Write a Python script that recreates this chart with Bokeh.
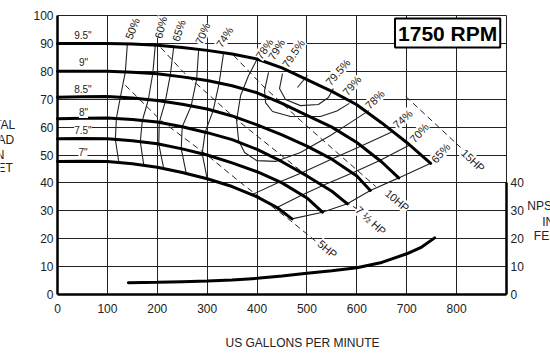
from bokeh.plotting import figure
from bokeh.models import Range1d, LinearAxis, FixedTicker, Label, LabelSet, ColumnDataSource
from bokeh.core.properties import value
from bokeh.embed import file_html
from bokeh.resources import INLINE
import math

FONT = "Liberation Sans"

# ---------------- data (US gpm, feet) ----------------
imp_labels = ['9.5"', '9"', '8.5"', '8"', '7.5"', '7"']
imp_label_q = [51, 52, 51, 52, 51, 51]
imp_label_h = [92.8, 83.3, 73.6, 65.2, 58.8, 51.0]

q_95 = [0, 50, 100, 150, 200, 250, 300, 350, 400, 450, 500, 550, 600, 650, 700, 748]
h_95 = [90, 90, 90, 89.8, 89.3, 88.5, 87.5, 86.2, 84.4, 81.2, 77, 72.8, 68, 61.5, 54.5, 47]
q_90 = [0, 50, 100, 150, 200, 250, 300, 350, 400, 450, 500, 550, 600, 650, 684]
h_90 = [80, 80, 80, 79.7, 79.1, 78, 76.7, 74.8, 72.3, 68.5, 64.2, 60, 54.5, 47.5, 41.8]
q_85 = [0, 50, 100, 150, 200, 250, 300, 350, 400, 450, 500, 550, 600, 627]
h_85 = [70.7, 70.9, 71, 70.4, 69.5, 68.2, 66.5, 64, 60.8, 57.2, 53.2, 48.5, 42.5, 37.3]
q_80 = [0, 50, 100, 150, 200, 250, 300, 350, 400, 450, 500, 550, 581]
h_80 = [63, 63.2, 63.3, 62.7, 61.8, 60.1, 58, 55.5, 52, 47.6, 42.5, 37, 32.5]
q_75 = [0, 50, 100, 150, 200, 250, 300, 350, 400, 450, 500, 531]
h_75 = [55.8, 55.9, 55.8, 55.1, 54, 52.2, 50, 47.2, 44, 40, 34.6, 29.5]
q_70 = [0, 50, 100, 150, 200, 250, 300, 350, 400, 440, 470]
h_70 = [47.7, 47.8, 47.7, 46.9, 45.6, 43.7, 41.5, 38.7, 35, 31.2, 27.1]

# efficiency contours
e50_q = [140, 136, 126, 118, 116, 123]
e50_h = [89.8, 79.8, 70.7, 63.1, 55.6, 47.3]
e60_q = [196, 191, 182, 170, 166, 173]
e60_h = [89.3, 79.2, 69.8, 62.3, 54.8, 46.3]
e65_q = [233, 226, 216, 204, 203, 213]
e65_h = [88.8, 78.6, 69.1, 61.7, 53.9, 45.1]
e70_q = [283, 279, 268, 250, 248, 258]
e70_h = [87.9, 77.3, 67.6, 60.1, 52.3, 43.4]
e74_q = [333, 324, 312, 296, 290, 300]
e74_h = [86.7, 75.8, 65.9, 58.2, 50.5, 41.5]
e78_q = [400, 383, 367, 359, 363, 375, 399, 437, 487, 547, 587, 624]
e78_h = [84.3, 78.5, 71.3, 62.4, 55.2, 50.9, 48.0, 47.7, 50.9, 57.0, 61.6, 65.9]
e79_q = [423, 415, 417, 431, 467, 527, 560, 585]
e79_h = [79.6, 73.1, 68.8, 65.6, 63.8, 63.8, 65.8, 68.5]
e795_q = [451, 445, 457, 487, 523, 543, 553]
e795_h = [79.2, 73.8, 69.9, 67.7, 68.1, 70.6, 73.8]
e795_tick_q = [481, 501]
e795_tick_h = [74.2, 78.5]
e74r_q = [390, 445, 490, 550, 610, 670]
e74r_h = [35.8, 40.3, 43.6, 48.6, 53.3, 58.2]
e70r_q = [440, 490, 535, 592, 645, 705]
e70r_h = [31.2, 35.7, 39.3, 43.6, 47.9, 53.5]
e65r_q = [470, 531, 581, 627, 684, 748]
e65r_h = [27.1, 29.5, 32.5, 37.3, 41.8, 47]

eff_top_text = ["50%", "60%", "65%", "70%", "74%", "78%", "79%", "79.5%"]
eff_top_q = [150, 207, 243, 291, 335, 415, 439, 473]
eff_top_h = [95.3, 95.7, 94.6, 93.5, 92.3, 88.0, 87.8, 86.4]
eff_top_deg = [68, 76, 72, 67, 57, 55, 59, 56]
eff_right_text = ["79.5%", "79%", "78%", "74%", "70%", "65%"]
eff_right_q = [562, 590, 636, 692, 725, 768]
eff_right_h = [79.7, 74.9, 69.9, 62.9, 57.9, 50.7]
eff_right_deg = [49, 50, 45, 42, 48, 48]

# horsepower lines
hp5_q = [136, 207, 301, 367, 467, 523]
hp5_h = [75, 62.4, 49.8, 40.1, 26.5, 18.3]
hp75_q = [207, 253, 361, 487, 599]
hp75_h = [88.5, 79.6, 62.4, 44.4, 30.8]
hp10_q = [353, 411, 487, 567, 638]
hp10_h = [85.7, 74.9, 62.4, 49.8, 38.7]
hp15_q = [698, 808]
hp15_h = [71, 52.7]
hp_text = ["5HP", "7 \u00bd HP", "10HP", "15HP"]
hp_q = [541, 628, 681, 833]
hp_h = [16.3, 26.5, 33.7, 48.0]
hp_deg = [-40, -42, -40, -43]

# NPSH required
npsh_q = [142, 200, 250, 300, 350, 400, 450, 500, 550, 600, 650, 700, 730, 756]
npsh_h = [4.2, 4.4, 4.6, 4.8, 5.2, 5.8, 6.6, 7.6, 8.5, 9.6, 11.5, 14.6, 17, 20.3]

x_ticks = [0, 100, 200, 300, 400, 500, 600, 700, 800]
y_ticks = [0, 10, 20, 30, 40, 50, 60, 70, 80, 90, 100]
npsh_ticks = [0, 10, 20, 30, 40]
Q_MAX, H_MAX = 900, 100

# ---------------- figure ----------------
# frame covers the whole canvas; the chart box (0..900 gpm, 0..100 ft) sits at
# pixels 57..506 horizontally and 15..294 vertically
W, H = 550, 355
BOX_L, BOX_R, BOX_T, BOX_B = 57, 506, 15, 294
kx = (BOX_R - BOX_L) / Q_MAX
ky = (BOX_B - BOX_T) / H_MAX
x_rng = Range1d(-BOX_L / kx, Q_MAX + (W - BOX_R) / kx)
y_rng = Range1d(-(H - BOX_B) / ky, H_MAX + BOX_T / ky)

p = figure(width=W, height=H, x_range=x_rng, y_range=y_rng,
           output_backend="svg", toolbar_location=None,
           min_border_left=0, min_border_right=0, min_border_top=0, min_border_bottom=0)
p.title.visible = False
p.background_fill_color = "white"
p.border_fill_color = "white"
p.outline_line_color = None

xa = p.xaxis[0]
ya = p.yaxis[0]
xa.ticker = FixedTicker(ticks=x_ticks)
ya.ticker = FixedTicker(ticks=y_ticks)
xa.fixed_location = 0
ya.fixed_location = 0
xa.bounds = (0, Q_MAX)
ya.bounds = (0, H_MAX)
for ax in [xa, ya]:
    ax.axis_line_width = 2.5
    ax.axis_line_color = "black"
    ax.major_tick_in = 0
    ax.major_tick_out = 0
    ax.minor_tick_line_color = None
    ax.major_label_text_font = FONT
    ax.major_label_text_font_size = "12px"
    ax.major_label_text_color = "#222222"
ya.major_label_standoff = 4
xa.major_label_standoff = 9

ra = LinearAxis(ticker=FixedTicker(ticks=npsh_ticks), bounds=(0, 40), fixed_location=Q_MAX)
ra.axis_line_width = 2.5
ra.axis_line_color = "black"
ra.major_tick_in = 0
ra.major_tick_out = 0
ra.minor_tick_line_color = None
ra.major_label_text_font = FONT
ra.major_label_text_font_size = "12px"
ra.major_label_text_color = "#222222"
ra.major_label_standoff = 4
p.add_layout(ra, "right")

p.xgrid.ticker = FixedTicker(ticks=x_ticks[1:] + [Q_MAX])
p.ygrid.ticker = FixedTicker(ticks=y_ticks[1:])
p.xgrid.cross_bounds = (0, H_MAX)
p.ygrid.cross_bounds = (0, Q_MAX)
for g in [p.xgrid[0], p.ygrid[0]]:
    g.grid_line_color = "#222222"
    g.grid_line_width = 1

THIN = dict(line_color="#222222", line_width=1.1)
for qs, hs in [(e50_q, e50_h), (e60_q, e60_h), (e65_q, e65_h), (e70_q, e70_h), (e74_q, e74_h),
               (e78_q, e78_h), (e79_q, e79_h), (e795_q, e795_h), (e795_tick_q, e795_tick_h),
               (e74r_q, e74r_h), (e70r_q, e70r_h), (e65r_q, e65r_h)]:
    p.line(qs, hs, **THIN)

DASH = dict(line_color="#222222", line_width=1, line_dash="6 4")
for qs, hs in [(hp5_q, hp5_h), (hp75_q, hp75_h), (hp10_q, hp10_h), (hp15_q, hp15_h)]:
    p.line(qs, hs, **DASH)

for qs, hs in [(q_95, h_95), (q_90, h_90), (q_85, h_85), (q_80, h_80), (q_75, h_75), (q_70, h_70)]:
    p.line(qs, hs, line_color="black", line_width=3, line_cap="round", line_join="round")

p.line(npsh_q, npsh_h, line_color="black", line_width=3, line_cap="round")

# labels
imp_src = ColumnDataSource(dict(x=imp_label_q, y=imp_label_h, text=imp_labels))
p.add_layout(LabelSet(x="x", y="y", text="text", source=imp_src, text_align="center",
                      text_baseline="middle", text_font=value(FONT), text_font_size="10px",
                      text_color="#222222", background_fill_color="white"))

eff_src = ColumnDataSource(dict(
    x=eff_top_q + eff_right_q + hp_q,
    y=eff_top_h + eff_right_h + hp_h,
    text=eff_top_text + eff_right_text + hp_text,
    angle=[math.radians(a) for a in eff_top_deg + eff_right_deg + hp_deg]))
p.add_layout(LabelSet(x="x", y="y", text="text", angle="angle", source=eff_src,
                      text_align="center", text_baseline="middle", text_font=value(FONT),
                      text_font_size="11px", text_color="#222222",
                      background_fill_color="white"))

p.add_layout(Label(x=782, y=93.7, text="1750 RPM", text_align="center", text_baseline="middle",
                   text_font=FONT, text_font_size="21px", text_font_style="bold",
                   text_color="black", background_fill_color="white",
                   border_line_color="black", border_line_width=2, padding=3))

# axis titles (screen units measured from the canvas bottom-left)
for txt, sx, sy in [("TOTAL", -4, 231), ("HEAD", -3, 216), ("IN", -2, 201), ("FEET", -3, 187.5)]:
    p.add_layout(Label(x=sx, y=sy, x_units="screen", y_units="screen", text=txt,
                       text_align="center", text_baseline="middle", text_font=FONT,
                       text_font_size="12px", text_color="#222222"))
for txt, sx, sy in [("NPSH", 543.5, 150), ("IN", 547.7, 134), ("FEET", 548.7, 120)]:
    p.add_layout(Label(x=sx, y=sy, x_units="screen", y_units="screen", text=txt,
                       text_align="center", text_baseline="middle", text_font=FONT,
                       text_font_size="12px", text_color="#222222"))
p.add_layout(Label(x=302, y=12.5, x_units="screen", y_units="screen",
                   text="US GALLONS PER MINUTE", text_align="center", text_baseline="middle",
                   text_font=FONT, text_font_size="12px", text_color="#222222"))

open("out.html", "w").write(file_html(p, INLINE))
